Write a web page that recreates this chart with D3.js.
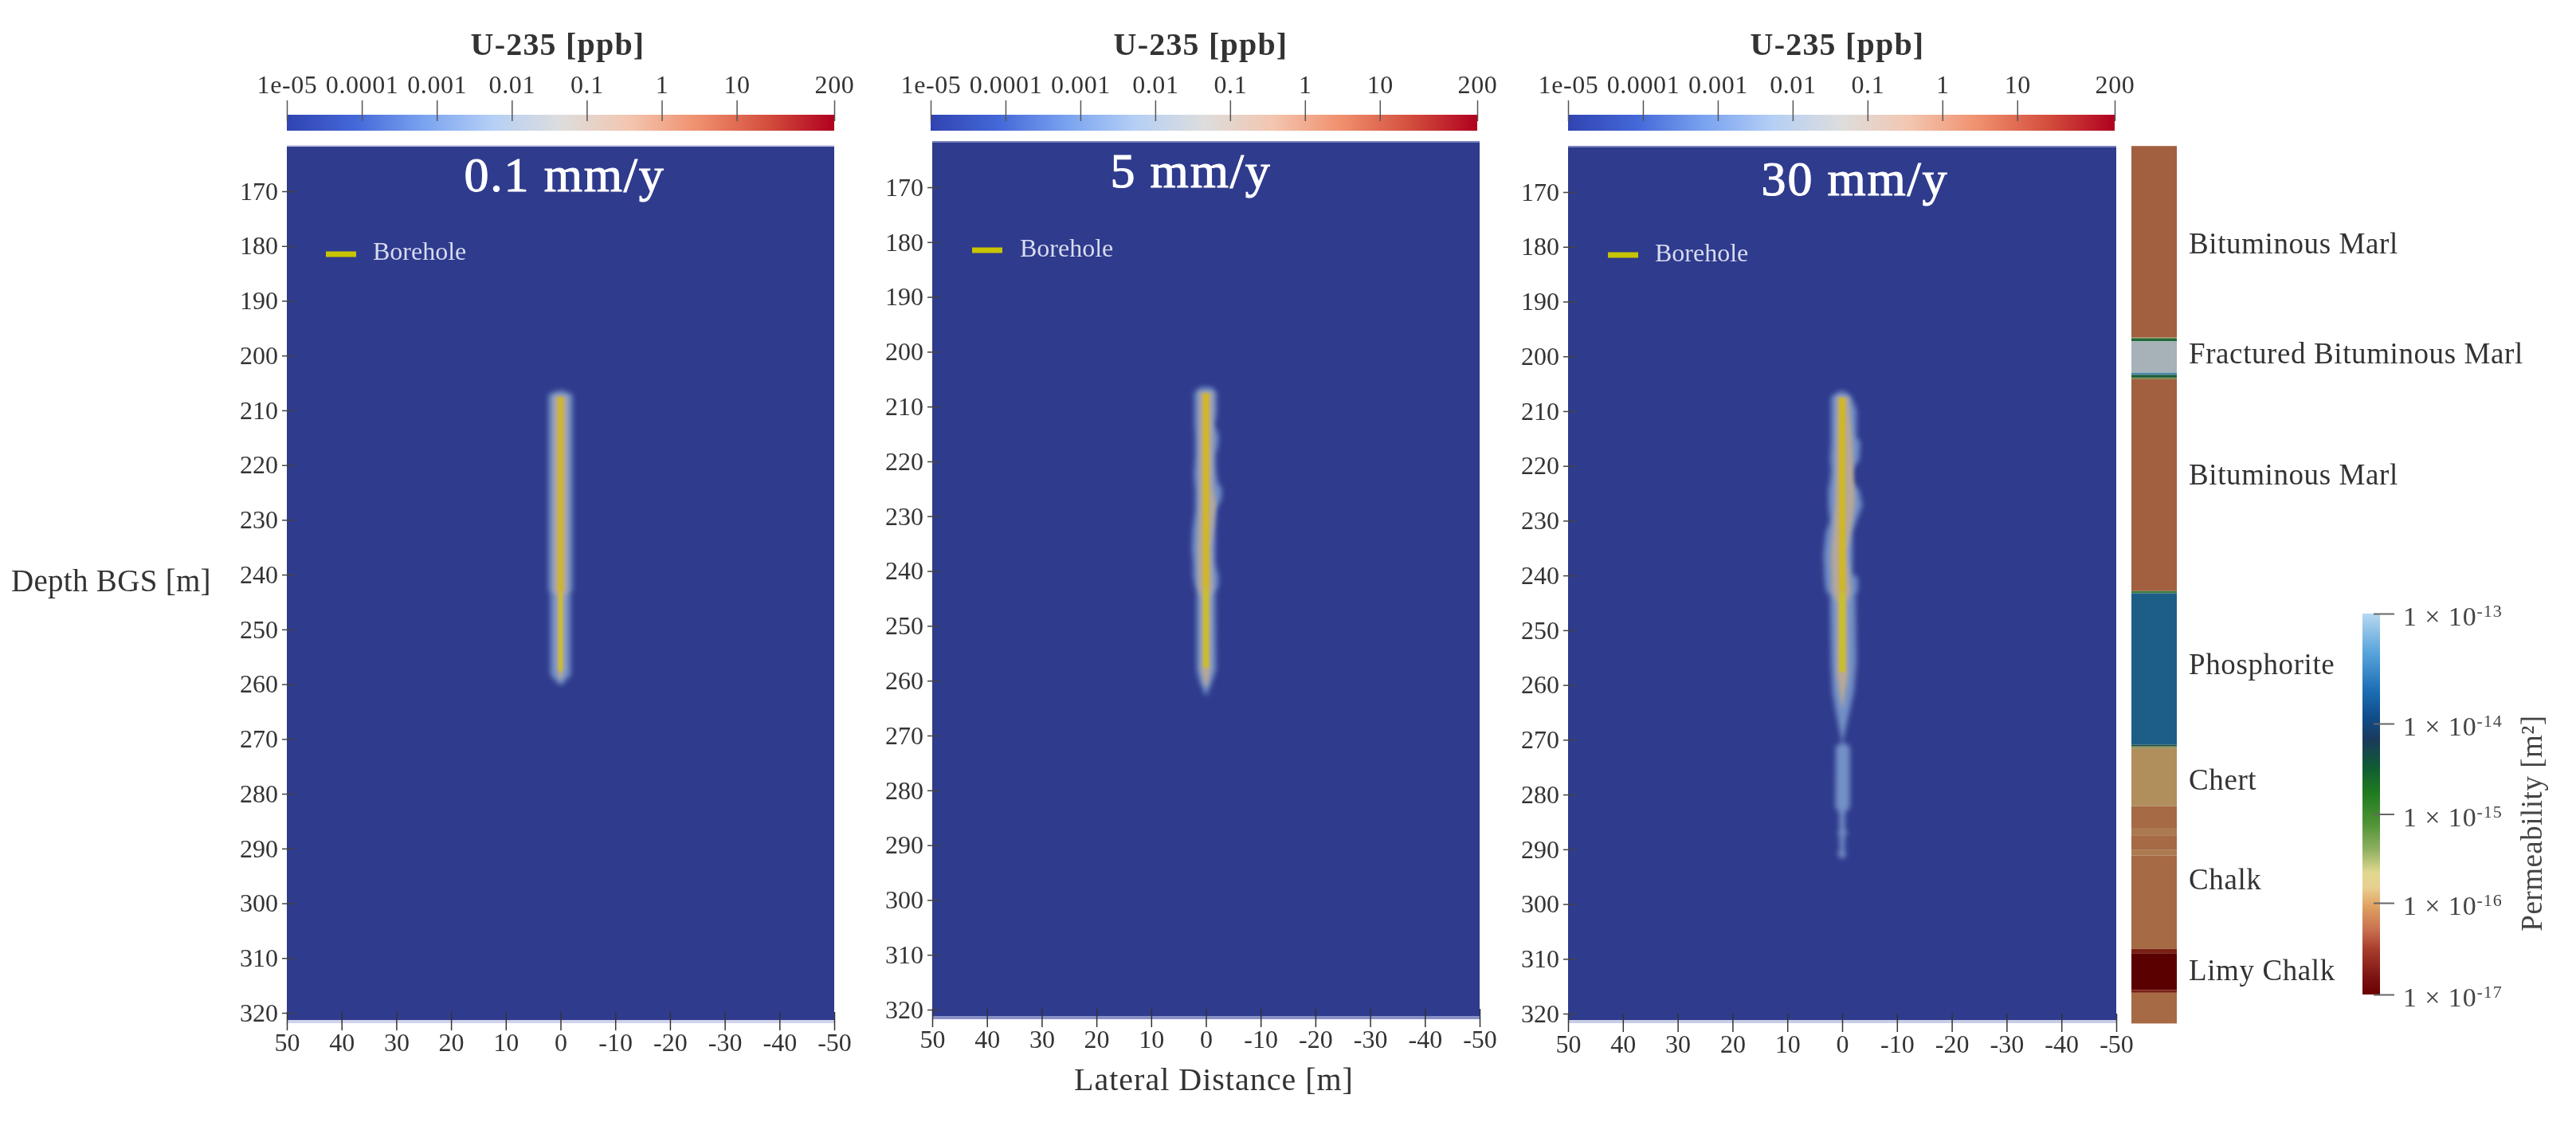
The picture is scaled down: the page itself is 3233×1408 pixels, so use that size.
<![CDATA[<!DOCTYPE html>
<html><head><meta charset="utf-8">
<script src="https://cdn.jsdelivr.net/npm/d3@7"></script>
<style>
html,body{margin:0;padding:0;background:#fff}
svg{display:block;filter:blur(0.7px)}
text{font-family:"Liberation Serif",serif;fill:#333}
</style></head><body><div id="c"></div>
<script>
const xTicks=[50,40,30,20,10,0,-10,-20,-30,-40,-50];
const depthTicks=[170,180,190,200,210,220,230,240,250,260,270,280,290,300,310,320];
const concTicks=[1e-5,1e-4,1e-3,1e-2,1e-1,1,10,200];
const concLabels=["1e-05","0.0001","0.001","0.01","0.1","1","10","200"];
const concStops=["#3044b0","#4468d8","#7aa3f0","#b5cff5","#dddddd","#f3c6b0","#f0906e","#d4503e","#b0001f"];
const panelTitles=["0.1 mm/y","5 mm/y","30 mm/y"];

// plume outlines: depth [m], lateral reach to the +x side and to the -x side [m]
const plumeDepth1=[206.4,207.1,243,243.3,258.3,260.2];
const plumePos1=[0.4,2.2,2.2,1.85,1.85,0.1];
const plumeNeg1=[0.4,2.2,2.2,1.85,1.85,0.1];
const plumeDepth2=[206.5,207.4,211.4,213.3,215.3,217.2,219.1,222,224,225,226.9,228.8,232.2,235.8,238.7,241,243,243.9,258,260,262.7];
const plumePos2=[1.0,2.1,2.1,2.1,1.95,1.95,1.95,2.2,2.1,1.95,1.95,1.95,2.4,2.57,2.33,2.33,1.95,1.7,1.7,1.2,0.1];
const plumeNeg2=[1.0,1.95,1.95,1.55,2.33,2.2,1.7,1.85,2.2,2.9,2.8,1.85,1.7,1.7,1.7,2.33,2.2,1.7,1.85,1.2,0.1];
const plumeDepth3=[206.4,207.4,209.8,214.7,215.7,218.9,220.9,222.7,224.4,227.2,230,232.1,236.3,239.8,240.4,242.8,243.6,255.9,261.4,265.7,270.5,271.2,282.3,283.4,286.5,286.9,287.5,290.2,290.8,291.7];
const plumePos3=[0.5,2.0,2.0,2.0,2.0,2.2,2.0,2.2,2.5,2.5,2.2,2.95,3.4,3.2,3.2,2.95,2.2,2.0,1.75,1.0,0.05,1.15,1.25,0.5,0.5,0.9,0.5,0.4,0.9,0.2];
const plumeNeg3=[0.5,1.65,2.6,2.6,3.3,3.1,1.65,1.65,3.1,3.7,2.6,1.9,1.9,1.9,2.85,2.85,2.4,2.6,2.1,1.15,0.1,1.4,1.4,0.5,0.5,1.15,0.5,0.4,0.8,0.2];

// inner grey-tan zone of each plume
const midDepth1=[207.3,243,244,257,259];
const midPos1=[1.25,1.25,0.75,0.75,0.3];
const midDepth2=[207.3,224,228,236,243,245,258,261];
const midPos2=[1.2,1.2,1.2,1.5,1.4,0.9,0.9,0.2];
const midNeg2=[1.2,1.2,1.8,1.0,1.3,0.9,0.9,0.2];
const midDepth3=[207.3,216,227,236,243,245,258,264];
const midPos3=[1.0,1.1,1.3,2.0,1.8,1.0,1.0,0.1];
const midNeg3=[1.2,1.9,2.3,1.0,1.6,1.0,1.1,0.1];

const boreholeDepth=[207.6,243,257.6];

const strataTop=[161.9,196.8,197.0,197.5,203.2,203.6,204.1,204.4,243.0,243.4,271.0,271.3,271.6,282.2,286.3,287.5,290.2,291.2,308.2,309.0,315.7,316.2];
const strataBottom=[196.8,197.0,197.5,203.2,203.6,204.1,204.4,243.0,243.4,271.0,271.3,271.6,282.2,286.3,287.5,290.2,291.2,308.2,309.0,315.7,316.2,321.8];
const strataColor=["#a26040","#7d8a52","#1f6a3a","#a6b2b8","#4a88a8","#1a5a3a","#7d8a52","#a26040","#3f7a40","#1d5e87","#1a4a40","#7d8a52","#b08f5c","#a66a44","#ab7a50","#a66a44","#ab7a50","#a66a44","#7a2015","#5a0000","#7a2015","#a66a44"];
const strataNames=["Bituminous Marl","Fractured Bituminous Marl","Bituminous Marl","Phosphorite","Chert","Chalk","Limy Chalk"];
const strataLabelDepth=[181.4,201.5,223.6,258.2,279.2,297.3,313.9];

const permTicks=[1e-17,1e-16,1e-15,1e-14,1e-13];
const permExp=["-17","-16","-15","-14","-13"];
const permStops=[[0,"#b8d8f0"],[.1,"#5aa5dc"],[.2,"#1d6fb5"],[.27,"#0f4e8c"],[.33,"#1a3a5c"],[.4,"#0f5a35"],[.47,"#1f7a20"],[.55,"#4f9335"],[.62,"#90b060"],[.68,"#e0d890"],[.72,"#e8cf8f"],[.77,"#dfa060"],[.83,"#c87050"],[.88,"#a83e2c"],[.96,"#7a1010"],[1,"#6a0000"]];

const W=3233,H=1408;
const svg=d3.select("#c").append("svg").attr("width",W).attr("height",H).attr("viewBox",`0 0 ${W} ${H}`);
const defs=svg.append("defs");
const g1=defs.append("linearGradient").attr("id","conc");
concStops.forEach((c,i)=>g1.append("stop").attr("offset",i/(concStops.length-1)).attr("stop-color",c));
const g2=defs.append("linearGradient").attr("id","perm").attr("x1",0).attr("x2",0).attr("y1",0).attr("y2",1);
permStops.forEach(s=>g2.append("stop").attr("offset",s[0]).attr("stop-color",s[1]));
[["b3",3.4],["b2",2.6],["b1",1]].forEach(([id,s])=>{
  defs.append("filter").attr("id",id).attr("x","-100%").attr("width","300%").attr("y","-5%").attr("height","110%")
    .append("feGaussianBlur").attr("stdDeviation",s);
});

const layouts=[
 {l:360,r:1047,cl:360,cr:1047,y170:240,y320:1271,top:182,bot:1284,band:"#cfd2ea",topBand:"#c8cce6",tickY:1270,legY:319,legDx:49,legTx:108,legTy:7,tDx:5,tBase:58,uX:700},
 {l:1170,r:1857,cl:1168,cr:1854,y170:235,y320:1267,top:177,bot:1279,band:"#8892c6",topBand:"#7a84bd",tickY:1266,legY:314,legDx:50,legTx:110,legTy:8,tDx:-19,tBase:58,uX:1507},
 {l:1968,r:2656,cl:1968,cr:2654,y170:241,y320:1272,top:183,bot:1284,band:"#c8cce6",topBand:"#7a84bd",tickY:1272,legY:320,legDx:50,legTx:109,legTy:8,tDx:16,tBase:62,uX:2306}
];
const plumes=[
 {d:plumeDepth1,p:plumePos1,n:plumeNeg1,md:midDepth1,mp:midPos1,mn:midPos1,w:[6,4.5]},
 {d:plumeDepth2,p:plumePos2,n:plumeNeg2,md:midDepth2,mp:midPos2,mn:midNeg2,w:[7,6.5]},
 {d:plumeDepth3,p:plumePos3,n:plumeNeg3,md:midDepth3,mp:midPos3,mn:midNeg3,w:[7.5,7.5]}
];
const panelBg="#2f3b8d";

layouts.forEach((L,i)=>{
  const x=d3.scaleLinear().domain([50,-50]).range([L.l,L.r]);
  const y=d3.scaleLinear().domain([170,320]).range([L.y170,L.y320]);
  const cx=d3.scaleLog().domain([1e-5,200]).range([L.cl,L.cr]);
  const g=svg.append("g");
  // colour bar
  g.append("rect").attr("x",L.cl).attr("y",144).attr("width",L.cr-L.cl).attr("height",20).attr("fill","url(#conc)");
  const ca=d3.axisTop(cx).tickValues(concTicks).tickSize(26).tickPadding(9).tickFormat((d,k)=>concLabels[k]);
  const cg=g.append("g").attr("transform","translate(0,152)").call(ca);
  cg.select(".domain").remove();
  cg.selectAll("line").attr("stroke","#555").attr("stroke-width",1.5);
  cg.selectAll("text").attr("font-size",32).attr("letter-spacing",.6).attr("font-family","Liberation Serif").attr("fill","#333");
  g.append("text").attr("x",L.uX).attr("y",69).attr("text-anchor","middle").attr("font-size",40).attr("font-weight","bold").attr("letter-spacing",1.2).text("U-235 [ppb]");
  // panel
  g.append("rect").attr("x",L.l).attr("y",L.top).attr("width",L.r-L.l).attr("height",L.bot-L.top).attr("fill",panelBg);
  g.append("rect").attr("x",L.l).attr("y",L.bot-4).attr("width",L.r-L.l).attr("height",4).attr("fill",L.band);
  g.append("rect").attr("x",L.l).attr("y",L.top).attr("width",L.r-L.l).attr("height",2).attr("fill",L.topBand);
  // plume
  const P=plumes[i];
  const outer=d3.area().x0(k=>x(P.p[k])).x1(k=>x(-P.n[k])).y(k=>y(P.d[k]));
  const mid=d3.area().x0(k=>x(P.mp[k])).x1(k=>x(-P.mn[k])).y(k=>y(P.md[k]));
  const pg=g.append("g");
  pg.append("path").attr("d",outer(d3.range(P.d.length))).attr("fill","#7390c6").attr("filter","url(#b3)");
  pg.append("path").attr("d",mid(d3.range(P.md.length))).attr("fill","#b8a897").attr("filter","url(#b2)");
  [0,1].forEach(s=>{
    const w=P.w[s];
    pg.append("rect").attr("x",x(0)-w/2).attr("width",w).attr("y",y(boreholeDepth[s])).attr("height",y(boreholeDepth[s+1])-y(boreholeDepth[s]))
      .attr("fill",s?"#c9bf2c":"#cfb726").attr("filter","url(#b1)");
  });
  // axes
  const ya=d3.axisLeft(y).tickValues(depthTicks).tickSize(16).tickPadding(5).tickFormat(d=>String(d));
  const yg=g.append("g").attr("transform",`translate(${L.l+10},0)`).call(ya);
  yg.select(".domain").remove();
  yg.selectAll("line").attr("stroke","#444").attr("stroke-width",1.5);
  yg.selectAll("text").attr("font-size",32).attr("font-family","Liberation Serif").attr("fill","#333");
  const xa=d3.axisBottom(x).tickValues(xTicks).tickSize(23).tickPadding(3).tickFormat(d=>String(d));
  const xg=g.append("g").attr("transform",`translate(0,${L.tickY})`).call(xa);
  xg.select(".domain").remove();
  xg.selectAll("line").attr("stroke","#333").attr("stroke-width",1.5);
  xg.selectAll("text").attr("font-size",32).attr("font-family","Liberation Serif").attr("fill","#333");
  // labels in panel
  g.append("text").attr("x",(L.l+L.r)/2+L.tDx).attr("y",L.top+L.tBase).attr("text-anchor","middle").attr("font-size",62).style("fill","#fff").style("stroke","#fff").style("stroke-width",1.1).attr("letter-spacing",1.8).text(panelTitles[i]);
  g.append("line").attr("x1",L.l+L.legDx).attr("x2",L.l+L.legDx+38).attr("y1",L.legY).attr("y2",L.legY).attr("stroke","#c8c400").attr("stroke-width",7);
  g.append("text").attr("x",L.l+L.legTx).attr("y",L.legY+L.legTy).attr("font-size",32).style("fill","#d8dcf0").text("Borehole");
});

svg.append("text").attr("x",14).attr("y",742).attr("font-size",39).attr("letter-spacing",.3).text("Depth BGS [m]");
svg.append("text").attr("x",1348).attr("y",1368).attr("font-size",40).attr("letter-spacing",1).text("Lateral Distance [m]");

// strata column
const sy=d3.scaleLinear().domain([170,320]).range([239,1272]);
svg.append("g").selectAll("rect").data(strataTop).join("rect")
  .attr("x",2675).attr("width",57)
  .attr("y",d=>sy(d)).attr("height",(d,i)=>sy(strataBottom[i])-sy(d))
  .attr("fill",(d,i)=>strataColor[i]);
svg.append("g").selectAll("text").data(strataNames).join("text")
  .attr("x",2747).attr("y",(d,i)=>sy(strataLabelDepth[i])).attr("font-size",37).attr("letter-spacing",.6).text(d=>d);

// permeability bar
const py=d3.scaleLog().domain(permTicks).range([1248,1133,1021.5,908,770]);
svg.append("rect").attr("x",2965).attr("y",py(1e-13)).attr("width",22).attr("height",py(1e-17)-py(1e-13)).attr("fill","url(#perm)");
const pa=d3.axisRight(py).tickValues(permTicks).tickSize(0).tickFormat("");
const pg=svg.append("g").attr("transform","translate(2979,0)").call(pa);
pg.select(".domain").remove();
pg.selectAll("line").attr("x2",26).attr("stroke","#666").attr("stroke-width",2);
const pl=svg.append("g").selectAll("text").data(permTicks).join("text")
  .attr("x",3016).attr("y",d=>py(d)+15).attr("font-size",34).attr("letter-spacing",.9).style("fill","#444");
pl.append("tspan").text("1 × 10");
pl.append("tspan").attr("dy",-11).attr("font-size",22).text((d,i)=>permExp[i]);
svg.append("text").attr("transform","translate(3190,1033) rotate(-90)").attr("text-anchor","middle").attr("font-size",37).style("fill","#444").attr("letter-spacing",.5).text("Permeability [m²]");
</script></body></html>]]>
